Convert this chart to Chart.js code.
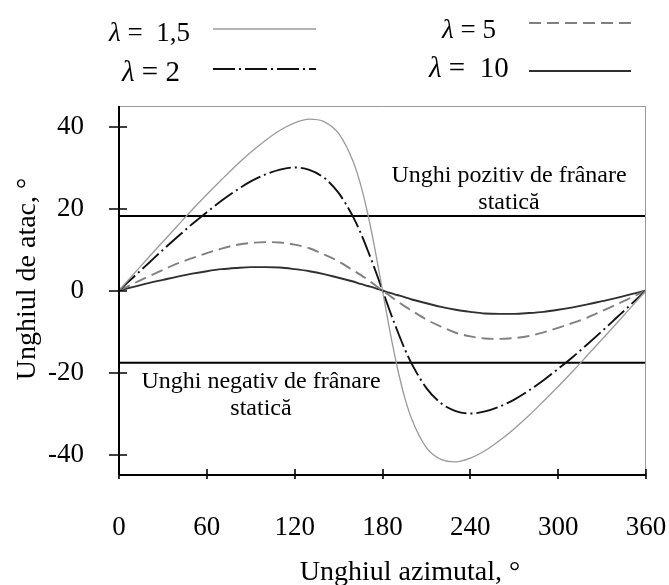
<!DOCTYPE html>
<html>
<head>
<meta charset="utf-8">
<script src="https://cdn.jsdelivr.net/npm/chart.js@4.4.1/dist/chart.umd.min.js"></script>
<style>
  html, body { margin: 0; padding: 0; background: #fff; }
  canvas { display: block; }
</style>
</head>
<body>
<canvas id="c" width="669" height="585"></canvas>
<script>
// ---- Data ----
const azimuth = [0, 10, 20, 30, 40, 50, 60, 70, 80, 90, 100, 110, 120, 130, 140, 150, 160, 165, 170, 175, 180,
                 185, 190, 195, 200, 210, 220, 230, 240, 250, 260, 270, 280, 290, 300, 310, 320, 330, 340, 350, 360];

const alphaL15 = [0, 4.0, 8.0, 11.9, 15.8, 19.7, 23.4, 27.0, 30.5, 33.7, 36.6, 39.1, 40.9, 41.8, 41.2, 38.3, 31.4, 25.9, 18.6, 9.8, 0,
                  -9.8, -18.6, -25.9, -31.4, -38.3, -41.2, -41.8, -40.9, -39.1, -36.6, -33.7, -30.5, -27.0, -23.4, -19.7, -15.8, -11.9, -8.0, -4.0, 0];

const alphaL2 = [0, 3.3, 6.6, 9.9, 13.1, 16.2, 19.1, 21.9, 24.4, 26.6, 28.3, 29.5, 30.0, 29.4, 27.5, 23.8, 17.9, 14.1, 9.7, 5.0, 0,
                 -5.0, -9.7, -14.1, -17.9, -23.8, -27.5, -29.4, -30.0, -29.5, -28.3, -26.6, -24.4, -21.9, -19.1, -16.2, -13.1, -9.9, -6.6, -3.3, 0];

const alphaL5 = [0, 1.7, 3.4, 5.0, 6.6, 7.9, 9.1, 10.2, 11.1, 11.6, 11.8, 11.7, 11.2, 10.3, 8.8, 7.1, 4.9, 3.8, 2.6, 1.3, 0,
                 -1.3, -2.6, -3.8, -4.9, -7.1, -8.8, -10.3, -11.2, -11.7, -11.8, -11.6, -11.1, -10.2, -9.1, -7.9, -6.6, -5.0, -3.4, -1.7, 0];

const alphaL10 = [0, 0.9, 1.8, 2.6, 3.4, 4.1, 4.7, 5.2, 5.5, 5.7, 5.7, 5.6, 5.2, 4.7, 4.0, 3.1, 2.2, 1.6, 1.1, 0.6, 0,
                  -0.6, -1.1, -1.6, -2.2, -3.1, -4.0, -4.7, -5.2, -5.6, -5.7, -5.7, -5.5, -5.2, -4.7, -4.1, -3.4, -2.6, -1.8, -0.9, 0];

const stallPositive = 18.2;
const stallNegative = -17.6;

const xTickValues = [0, 60, 120, 180, 240, 300, 360];
const yTickValues = [-40, -20, 0, 20, 40];

const seriesNames = ['λ =  1,5', 'λ = 2', 'λ = 5', 'λ =  10'];
const xTitle = 'Unghiul azimutal, °';
const yTitle = 'Unghiul de atac, °';
const stallPosText = ['Unghi pozitiv de frânare', 'statică'];
const stallNegText = ['Unghi negativ de frânare', 'statică'];

// ---- Build ----
const SERIF = "'Liberation Serif', 'Times New Roman', serif";
const toPts = arr => azimuth.map((x, i) => ({ x: x, y: arr[i] }));
const hLine = v => [{ x: xTickValues[0], y: v }, { x: xTickValues[xTickValues.length - 1], y: v }];

const styles = [
  { color: '#9a9a9a', width: 1.3, dash: [] },
  { color: '#111111', width: 1.9, dash: [22, 4, 2, 4] },
  { color: '#808080', width: 1.9, dash: [12, 6] },
  { color: '#303030', width: 1.9, dash: [] }
];
const series = [alphaL15, alphaL2, alphaL5, alphaL10];

const datasets = series.map((arr, i) => ({
  label: seriesNames[i],
  data: toPts(arr),
  borderColor: styles[i].color,
  borderWidth: styles[i].width,
  borderDash: styles[i].dash,
  pointRadius: 0,
  fill: false,
  cubicInterpolationMode: 'monotone'
}));
[stallPositive, stallNegative].forEach(v => datasets.push({
  label: 'stall',
  data: hLine(v),
  borderColor: '#000',
  borderWidth: 2,
  pointRadius: 0,
  fill: false
}));

const legendLayout = [
  { tx: 109, ty: 41, size: 27, x1: 213, x2: 316, ly: 29 },
  { tx: 122, ty: 81, size: 29, x1: 213, x2: 316, ly: 69 },
  { tx: 442, ty: 38, size: 27, x1: 529, x2: 631, ly: 23 },
  { tx: 429, ty: 77, size: 29, x1: 529, x2: 631, ly: 71 }
];

const decor = {
  id: 'decor',
  beforeDraw(chart) {
    const ctx = chart.ctx;
    ctx.save();
    ctx.fillStyle = '#fff';
    ctx.fillRect(0, 0, chart.width, chart.height);
    ctx.restore();
  },
  afterDraw(chart) {
    const ctx = chart.ctx;
    const a = chart.chartArea;
    const xs = chart.scales.x, ys = chart.scales.y;
    ctx.save();
    // frame: top/right grey, left/bottom black
    ctx.strokeStyle = '#9a9a9a';
    ctx.lineWidth = 1;
    ctx.beginPath();
    ctx.moveTo(a.left, a.top + 0.5); ctx.lineTo(a.right, a.top + 0.5);
    ctx.moveTo(a.right - 0.5, a.top); ctx.lineTo(a.right - 0.5, a.bottom);
    ctx.stroke();
    ctx.strokeStyle = '#000';
    ctx.lineWidth = 2;
    ctx.beginPath();
    ctx.moveTo(a.left, a.top); ctx.lineTo(a.left, a.bottom);
    ctx.moveTo(a.left, a.bottom); ctx.lineTo(a.right, a.bottom);
    ctx.stroke();
    // tick marks crossing the axes
    ctx.lineWidth = 1.6;
    ctx.beginPath();
    yTickValues.forEach(v => {
      const p = Math.round(ys.getPixelForValue(v));
      ctx.moveTo(a.left - 10, p); ctx.lineTo(a.left + 8, p);
    });
    xTickValues.forEach(v => {
      const p = Math.round(xs.getPixelForValue(v));
      ctx.moveTo(p, a.bottom - 6); ctx.lineTo(p, a.bottom + 4);
    });
    ctx.stroke();

    // legend
    ctx.fillStyle = '#000';
    ctx.textBaseline = 'alphabetic';
    ctx.textAlign = 'left';
    legendLayout.forEach((L, i) => {
      const name = seriesNames[i];
      const lam = name.charAt(0);
      const rest = name.slice(1);
      ctx.font = 'italic ' + L.size + 'px ' + SERIF;
      ctx.fillText(lam, L.tx, L.ty);
      const w = ctx.measureText(lam).width;
      ctx.font = L.size + 'px ' + SERIF;
      ctx.fillText(rest, L.tx + w, L.ty);
      const st = styles[i];
      ctx.strokeStyle = st.color;
      ctx.lineWidth = st.width;
      ctx.setLineDash(st.dash);
      ctx.beginPath();
      ctx.moveTo(L.x1, L.ly); ctx.lineTo(L.x2, L.ly);
      ctx.stroke();
      ctx.setLineDash([]);
    });

    // stall annotations
    ctx.fillStyle = '#000';
    ctx.font = '24px ' + SERIF;
    ctx.textAlign = 'center';
    ctx.fillText(stallPosText[0], 509, 182);
    ctx.fillText(stallPosText[1], 509, 209);
    ctx.fillText(stallNegText[0], 261, 388);
    ctx.fillText(stallNegText[1], 261, 415);

    // axis titles
    ctx.font = '28px ' + SERIF;
    ctx.textAlign = 'center';
    ctx.fillText(xTitle, 410, 580);
    ctx.save();
    ctx.translate(35, 279);
    ctx.rotate(-Math.PI / 2);
    ctx.fillText(yTitle, 0, 0);
    ctx.restore();
    ctx.restore();
  }
};

new Chart(document.getElementById('c'), {
  type: 'line',
  data: { datasets: datasets },
  options: {
    responsive: false,
    animation: false,
    devicePixelRatio: 1,
    layout: { padding: { top: 106, right: 23, left: 0, bottom: 0 } },
    plugins: { legend: { display: false }, tooltip: { enabled: false } },
    scales: {
      x: {
        type: 'linear',
        min: 0, max: 360,
        afterBuildTicks: s => { s.ticks = xTickValues.map(v => ({ value: v })); },
        afterFit: s => { s.height = 110; s.paddingLeft = 0; s.paddingRight = 0; },
        grid: { display: false },
        border: { display: false },
        ticks: { font: { family: SERIF, size: 27 }, color: '#000', padding: 29, maxRotation: 0, autoSkip: false }
      },
      y: {
        type: 'linear',
        min: -45, max: 45,
        afterBuildTicks: s => { s.ticks = yTickValues.map(v => ({ value: v })); },
        afterFit: s => { s.width = 119; s.paddingTop = 0; s.paddingBottom = 0; },
        grid: { display: false },
        border: { display: false },
        ticks: { font: { family: SERIF, size: 27 }, color: '#000', padding: 27 }
      }
    }
  },
  plugins: [decor]
});
</script>
</body>
</html>
